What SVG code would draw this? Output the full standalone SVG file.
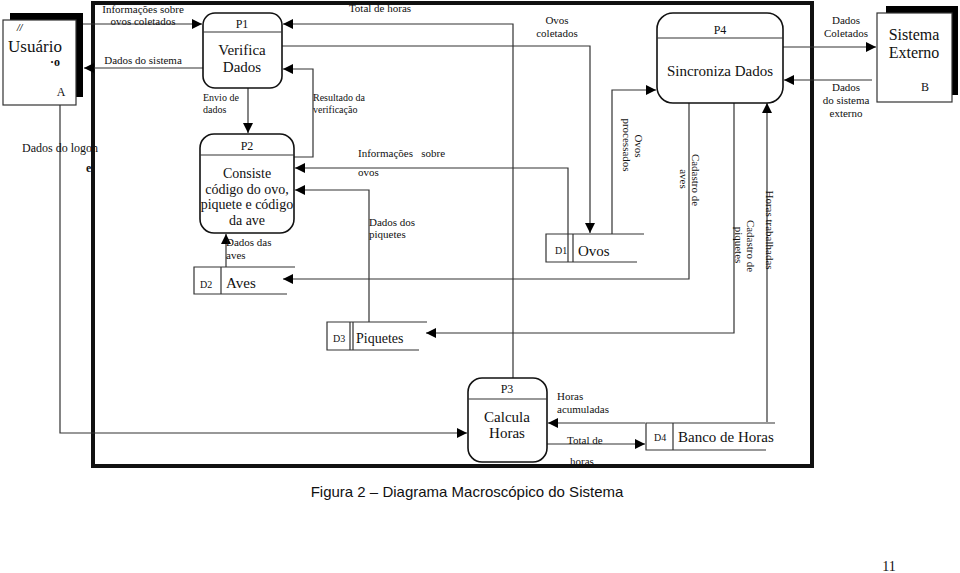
<svg xmlns="http://www.w3.org/2000/svg" width="960" height="573" viewBox="0 0 960 573">
<defs>
<marker id="ah" viewBox="0 0 10 10" refX="10" refY="5" markerWidth="10" markerHeight="10" markerUnits="userSpaceOnUse" orient="auto">
<path d="M0,0 L10,5 L0,10 z" fill="#000"/>
</marker>
<style>
.ln{fill:none;stroke:#333;stroke-width:1.2}
.ar{fill:none;stroke:#333;stroke-width:1.2;marker-end:url(#ah)}
.box{fill:#fff;stroke:#333;stroke-width:1.2}
.proc{fill:#fff;stroke:#111;stroke-width:1.6}
.t{font-family:"Liberation Serif",serif;fill:#111}
.s{font-size:11px}
.m{font-size:15px}
.c{text-anchor:middle}
.sh{fill:#000}
</style>
</defs>
<rect width="960" height="573" fill="#fff"/>

<!-- outer system border -->
<rect x="93" y="3" width="719" height="463" fill="none" stroke="#111" stroke-width="4"/>

<g id="connectors">
<path class="ar" d="M83,24 H202"/>
<path class="ar" d="M203,68 H84"/>
<path class="ar" d="M60,105 V433 H467"/>
<path class="ar" d="M248,88 V133"/>
<path class="ar" d="M294,157 H313 V69 H283"/>
<path class="ar" d="M513,378 V24 H283"/>
<path class="ar" d="M282,46 H590 V233"/>
<path class="ar" d="M568,234 V168 H295"/>
<path class="ar" d="M369,322 V190 H295"/>
<path class="ar" d="M226,267 V234"/>
<path class="ar" d="M612,234 V90 H656"/>
<path class="ar" d="M689,102 V279 H283"/>
<path class="ar" d="M734,102 V333 H426"/>
<path class="ar" d="M767,422 V103"/>
<path class="ar" d="M783,47 H876"/>
<path class="ar" d="M872,80 H784"/>
<path class="ar" d="M645,423 H548"/>
<path class="ar" d="M547,444 H645"/>
</g>

<g id="labels">
<text class="t s c" x="143" y="13">Informações sobre</text>
<text class="t s c" x="143" y="25">ovos coletados</text>
<text class="t s c" x="143" y="64">Dados do sistema</text>
<text class="t" x="22" y="152" font-size="12">Dados do logon</text>
<text class="t" x="86" y="172" font-size="12" font-weight="bold">e</text>
<text class="t" x="203" y="101" font-size="10">Envio de</text>
<text class="t" x="203" y="113" font-size="10">dados</text>
<text class="t" x="313" y="101" font-size="10">Resultado da</text>
<text class="t" x="313" y="113" font-size="10">verificação</text>
<text class="t s c" x="380" y="12">Total de horas</text>
<text class="t s c" x="557" y="24">Ovos</text>
<text class="t s c" x="557" y="37">coletados</text>
<text class="t s" x="358" y="157" xml:space="preserve">Informações   sobre</text>
<text class="t s" x="358" y="176">ovos</text>
<text class="t s" x="369" y="226">Dados dos</text>
<text class="t s" x="369" y="238">piquetes</text>
<text class="t s" x="226" y="246">Dados das</text>
<text class="t s" x="226" y="259">aves</text>
<text class="t s c" transform="translate(635,146) rotate(90)">Ovos</text>
<text class="t s c" transform="translate(623,145) rotate(90)">processados</text>
<text class="t s c" transform="translate(692,180) rotate(90)">Cadastro de</text>
<text class="t s c" transform="translate(680,179) rotate(90)">aves</text>
<text class="t s c" transform="translate(747,246) rotate(90)">Cadastro de</text>
<text class="t s c" transform="translate(735,245) rotate(90)">piquetes</text>
<text class="t s c" transform="translate(766,230) rotate(90)">Horas trabalhadas</text>
<text class="t s c" x="846" y="24">Dados</text>
<text class="t s c" x="846" y="37">Coletados</text>
<text class="t s c" x="846" y="91">Dados</text>
<text class="t s c" x="846" y="104">do sistema</text>
<text class="t s c" x="846" y="117">externo</text>
<text class="t s" x="557" y="400">Horas</text>
<text class="t s" x="557" y="413">acumuladas</text>
<text class="t s" x="567" y="444">Total de</text>
<text class="t s" x="570" y="465">horas</text>
</g>

<g id="usuario">
<rect class="sh" x="10" y="13" width="73" height="84"/>
<rect class="box" x="3" y="20" width="73" height="85"/>
<text class="t" x="35" y="52" font-size="17" text-anchor="middle">Usuário</text>
<text class="t" x="17" y="31" font-size="10" font-weight="bold" font-style="italic">//</text>
<text class="t" x="50" y="66" font-size="12" font-weight="bold">·o</text>
<text class="t" x="61" y="96" font-size="12" text-anchor="middle">A</text>
</g>

<g id="sistema-externo">
<rect class="sh" x="886" y="6" width="72" height="89"/>
<rect class="box" x="877" y="13" width="75" height="89"/>
<text class="t" x="914" y="40" font-size="16" text-anchor="middle">Sistema</text>
<text class="t" x="914" y="58" font-size="16" text-anchor="middle">Externo</text>
<text class="t" x="925" y="91" font-size="12" text-anchor="middle">B</text>
</g>

<g id="p1">
<rect class="proc" x="203" y="13" width="79" height="75" rx="12"/>
<line class="ln" x1="203" y1="32" x2="282" y2="32"/>
<text class="t c" x="242" y="28" font-size="12">P1</text>
<text class="t m c" x="242" y="55">Verifica</text>
<text class="t m c" x="242" y="72">Dados</text>
</g>

<g id="p2">
<rect class="proc" x="200" y="134" width="94" height="99" rx="14"/>
<line class="ln" x1="200" y1="155" x2="294" y2="155"/>
<text class="t c" x="247" y="150" font-size="12">P2</text>
<text class="t c" x="247" y="178" font-size="14">Consiste</text>
<text class="t c" x="247" y="194" font-size="14">código do ovo,</text>
<text class="t c" x="247" y="209" font-size="14">piquete e código</text>
<text class="t c" x="247" y="225" font-size="14">da ave</text>
</g>

<g id="p3">
<rect class="proc" x="468" y="378" width="79" height="84" rx="14"/>
<line class="ln" x1="468" y1="399" x2="547" y2="399"/>
<text class="t c" x="507" y="393" font-size="12">P3</text>
<text class="t m c" x="507" y="422">Calcula</text>
<text class="t m c" x="507" y="438">Horas</text>
</g>

<g id="p4">
<rect class="proc" x="657" y="13" width="126" height="90" rx="16"/>
<line class="ln" x1="657" y1="38" x2="783" y2="38"/>
<text class="t c" x="720" y="34" font-size="12">P4</text>
<text class="t m c" x="720" y="76">Sincroniza Dados</text>
</g>

<g id="d1">
<path class="ln" d="M644,234 H546 V262 H637 M568,234 V262 M573,234 V262"/>
<text class="t" x="555" y="254" font-size="10">D1</text>
<text class="t m" x="578" y="256">Ovos</text>
</g>

<g id="d2">
<path class="ln" d="M295,267 H194 V294 H287 M221,267 V294"/>
<text class="t" x="200" y="288" font-size="10">D2</text>
<text class="t m" x="226" y="288">Aves</text>
</g>

<g id="d3">
<path class="ln" d="M427,322 H327 V350 H419 M350,322 V350 M353,322 V350"/>
<text class="t" x="333" y="342" font-size="10">D3</text>
<text class="t" x="356" y="343" font-size="14">Piquetes</text>
</g>

<g id="d4">
<path class="ln" d="M775,423 H646 V450 H766 M673,423 V450"/>
<text class="t" x="654" y="441" font-size="10">D4</text>
<text class="t m" x="678" y="442">Banco de Horas</text>
</g>

<text x="467" y="497" font-family="Liberation Sans, sans-serif" font-size="15" text-anchor="middle" fill="#111">Figura 2 – Diagrama Macroscópico do Sistema</text>
<text x="889" y="571" font-family="Liberation Serif, serif" font-size="14" text-anchor="middle" fill="#111">11</text>
</svg>
